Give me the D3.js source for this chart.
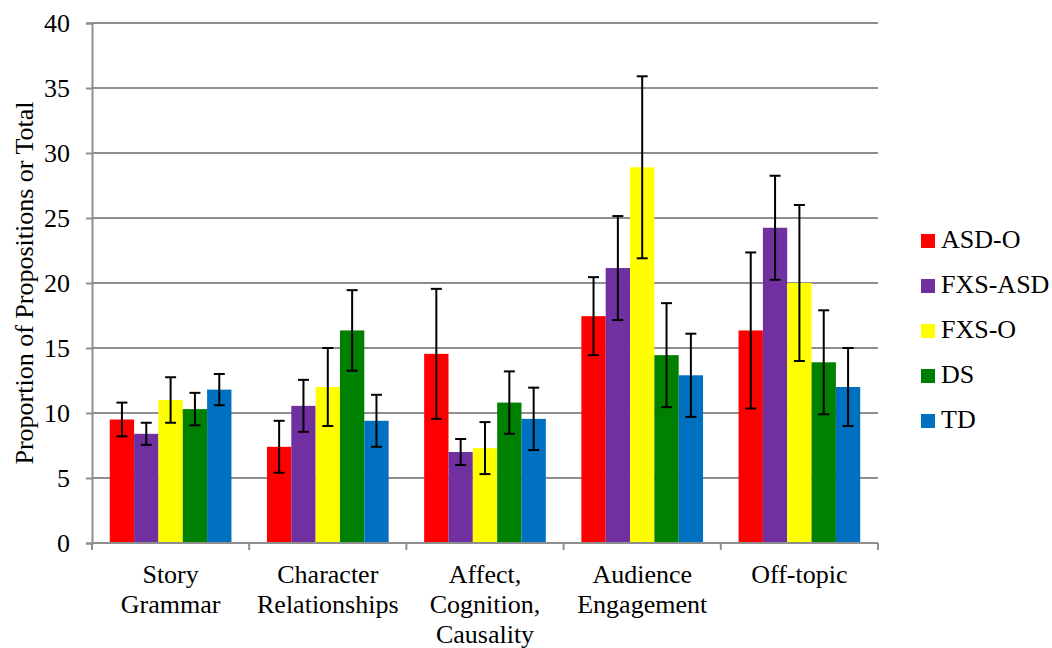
<!DOCTYPE html>
<html>
<head>
<meta charset="utf-8">
<script src="https://cdn.jsdelivr.net/npm/d3@7"></script>
<style>
  body { margin: 0; background: #fff; }
</style>
</head>
<body>
<svg id="chart"></svg>
<script>
// categories and groups
const categories = [
    ["Story", "Grammar"],
    ["Character", "Relationships"],
    ["Affect,", "Cognition,", "Causality"],
    ["Audience", "Engagement"],
    ["Off-topic"]
];
const groups = ["ASD-O", "FXS-ASD", "FXS-O", "DS", "TD"];
const colors = ["#ff0000", "#7030a0", "#ffff00", "#008000", "#0070c0"];

// means, one array per group (same order as categories)
const asdO   = [9.5, 7.4, 14.55, 17.45, 16.35];
const fxsAsd = [8.4, 10.55, 7.0, 21.15, 24.25];
const fxsO   = [11.0, 12.0, 7.3, 28.9, 20.0];
const ds     = [10.3, 16.35, 10.8, 14.45, 13.9];
const td     = [11.8, 9.4, 9.55, 12.9, 12.0];

// error bar half-widths
const asdOErr   = [1.3, 2.0, 5.0, 3.0, 6.0];
const fxsAsdErr = [0.85, 2.0, 1.0, 4.0, 4.0];
const fxsOErr   = [1.75, 3.0, 2.0, 7.0, 6.0];
const dsErr     = [1.25, 3.1, 2.4, 4.0, 4.0];
const tdErr     = [1.2, 2.0, 2.4, 3.2, 3.0];

const yTicks = [0, 5, 10, 15, 20, 25, 30, 35, 40];
const yTitle = "Proportion of Propositions or Total";

const means = [asdO, fxsAsd, fxsO, ds, td];
const errs = [asdOErr, fxsAsdErr, fxsOErr, dsErr, tdErr];

const serif = '"Liberation Serif"';

let width = 1052;
let height = 648;
let plot = { left: 92, right: 878, top: 23, bottom: 543 };

let svg = d3.select("#chart")
    .attr("width", width)
    .attr("height", height);

let catKeys = categories.map(d => d.join(" "));

let x0 = d3.scaleBand()
    .domain(catKeys)
    .range([plot.left, plot.right])
    .padding(0);

let x1 = d3.scaleBand()
    .domain(groups)
    .range([0, x0.bandwidth()])
    .paddingInner(0)
    .paddingOuter(0.73);

let y = d3.scaleLinear()
    .domain([0, 40])
    .range([plot.bottom, plot.top]);

// gridlines
svg.append("g")
    .selectAll("line")
    .data(yTicks.filter(t => t > 0))
    .enter()
    .append("line")
    .attr("x1", plot.left)
    .attr("x2", plot.right)
    .attr("y1", d => y(d))
    .attr("y2", d => y(d))
    .attr("stroke", "#8e8e8e")
    .attr("stroke-width", 2);

// y axis
let yAxis = d3.axisLeft(y)
    .tickValues(yTicks)
    .tickSize(6)
    .tickPadding(16);

let yg = svg.append("g")
    .attr("transform", `translate(${plot.left},0)`)
    .call(yAxis)
    .attr("font-family", serif)
    .attr("font-size", 26);
yg.select(".domain").attr("stroke", "#8e8e8e").attr("stroke-width", 2);
yg.selectAll(".tick line").attr("stroke", "#8e8e8e").attr("stroke-width", 2);

// bars
let rows = [];
categories.forEach((c, i) => {
    groups.forEach((g, j) => {
        rows.push({ cat: catKeys[i], group: g, value: means[j][i], err: errs[j][i], color: colors[j] });
    });
});

svg.append("g")
    .selectAll("rect")
    .data(rows)
    .enter()
    .append("rect")
    .attr("x", d => x0(d.cat) + x1(d.group))
    .attr("y", d => y(d.value))
    .attr("width", x1.bandwidth())
    .attr("height", d => y(0) - y(d.value))
    .attr("fill", d => d.color);

// x axis (baseline + category separators)
let xg = svg.append("g");
xg.append("line")
    .attr("x1", plot.left)
    .attr("x2", plot.right)
    .attr("y1", plot.bottom)
    .attr("y2", plot.bottom)
    .attr("stroke", "#8e8e8e")
    .attr("stroke-width", 2);

let bounds = catKeys.map(k => x0(k)).concat([plot.right]);
xg.selectAll(".sep")
    .data(bounds)
    .enter()
    .append("line")
    .attr("class", "sep")
    .attr("x1", d => d)
    .attr("x2", d => d)
    .attr("y1", plot.bottom)
    .attr("y2", plot.bottom + 7)
    .attr("stroke", "#8e8e8e")
    .attr("stroke-width", 2);

// error bars
let eb = svg.append("g")
    .attr("stroke", "#000")
    .attr("stroke-width", 2);

rows.forEach(d => {
    let cx = x0(d.cat) + x1(d.group) + x1.bandwidth() / 2;
    let yt = y(d.value + d.err);
    let yb = y(d.value - d.err);
    eb.append("line").attr("x1", cx).attr("x2", cx).attr("y1", yt).attr("y2", yb);
    eb.append("line").attr("x1", cx - 5.5).attr("x2", cx + 5.5).attr("y1", yt).attr("y2", yt);
    eb.append("line").attr("x1", cx - 5.5).attr("x2", cx + 5.5).attr("y1", yb).attr("y2", yb);
});

// category labels
let labels = svg.append("g")
    .selectAll("text")
    .data(categories)
    .enter()
    .append("text")
    .attr("text-anchor", "middle")
    .attr("font-family", serif)
    .attr("font-size", 26)
    .attr("x", (d, i) => x0(catKeys[i]) + x0.bandwidth() / 2)
    .attr("y", 583);

labels.selectAll("tspan")
    .data(d => d)
    .enter()
    .append("tspan")
    .attr("x", function () { return d3.select(this.parentNode).attr("x"); })
    .attr("dy", (d, i) => i === 0 ? 0 : 30)
    .text(d => d);

// y axis title
svg.append("text")
    .attr("transform", `translate(33,${(plot.top + plot.bottom) / 2}) rotate(-90)`)
    .attr("text-anchor", "middle")
    .attr("font-family", serif)
    .attr("font-size", 26)
    .text(yTitle);

// legend
let legend = svg.append("g")
    .selectAll("g")
    .data(groups)
    .enter()
    .append("g")
    .attr("transform", (d, i) => `translate(921,${234 + i * 45})`);

legend.append("rect")
    .attr("width", 14)
    .attr("height", 14)
    .attr("fill", (d, i) => colors[i]);

legend.append("text")
    .attr("x", 20)
    .attr("y", 14)
    .attr("font-family", serif)
    .attr("font-size", 26)
    .text(d => d);
</script>
</body>
</html>
